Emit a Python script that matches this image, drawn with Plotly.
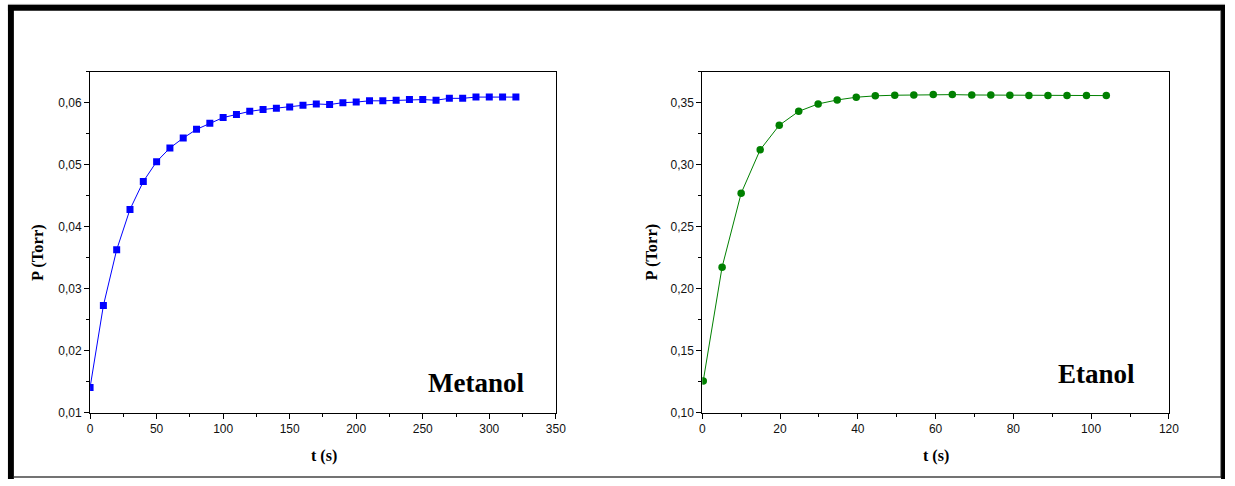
import plotly.graph_objects as go

W, H = 1235, 486

# ---- data ----
t_metanol = [0, 10, 20, 30, 40, 50, 60, 70, 80, 90, 100, 110, 120, 130, 140, 150,
             160, 170, 180, 190, 200, 210, 220, 230, 240, 250, 260, 270, 280, 290,
             300, 310, 320]
p_metanol = [0.0141, 0.0273, 0.0363, 0.0428, 0.0473, 0.0505, 0.0527, 0.0543, 0.0557,
             0.0567, 0.0576, 0.0581, 0.0586, 0.0589, 0.0591, 0.0593, 0.0596, 0.0598,
             0.0597, 0.0600, 0.0601, 0.0603, 0.0603, 0.0604, 0.0605, 0.0605, 0.0604,
             0.0607, 0.0607, 0.0609, 0.0609, 0.0609, 0.0609]

t_etanol = [0.25, 5.1, 10.0, 14.9, 19.8, 24.8, 29.8, 34.7, 39.6, 44.5, 49.5, 54.4,
            59.4, 64.3, 69.3, 74.2, 79.1, 84.0, 88.9, 93.8, 98.8, 103.9]
p_etanol = [0.1258, 0.2175, 0.2770, 0.3121, 0.3318, 0.3430, 0.3490, 0.3522, 0.3544,
            0.3555, 0.3560, 0.3562, 0.3565, 0.3565, 0.3562, 0.3562, 0.3560, 0.3557,
            0.3557, 0.3557, 0.3557, 0.3557]

x_title = "t (s)"
y_title = "P (Torr)"
label_metanol = "Metanol"
label_etanol = "Etanol"


def X(px):
    return px / W


def Y(py):
    return 1 - py / H


fig = go.Figure()
fig.add_trace(go.Scatter(
    x=t_metanol, y=p_metanol, mode="lines+markers",
    line=dict(color="#0000FF", width=1),
    marker=dict(symbol="square", size=7, color="#0000FF"),
    xaxis="x", yaxis="y", showlegend=False))
fig.add_trace(go.Scatter(
    x=t_etanol, y=p_etanol, mode="lines+markers",
    line=dict(color="#008000", width=1),
    marker=dict(symbol="circle", size=7.5, color="#008000"),
    xaxis="x2", yaxis="y2", showlegend=False))

tickfont = dict(family="Liberation Sans, Arial, sans-serif", size=12, color="#111")
common = dict(showline=True, mirror=True, linecolor="#000", linewidth=1,
              ticks="outside", ticklen=5, tickwidth=1, tickcolor="#000",
              showgrid=False, zeroline=False, tickfont=tickfont)

y_top, y_bot = 72.7, 419

fig.update_layout(
    width=W, height=H,
    margin=dict(l=0, r=0, t=0, b=0),
    paper_bgcolor="white", plot_bgcolor="white",
    separators=",.",
    xaxis=dict(domain=[X(88), X(558.7)], range=[0, 350], dtick=50, tick0=0,
               anchor="y", minor=dict(dtick=25, ticklen=3, ticks="outside", tickcolor="#000"),
               **common),
    yaxis=dict(domain=[Y(y_bot), Y(y_top)], range=[0.01, 0.065], dtick=0.01, tick0=0.01,
               tickformat=".2f", anchor="x",
               minor=dict(dtick=0.005, ticklen=3, ticks="outside", tickcolor="#000"),
               **common),
    xaxis2=dict(domain=[X(706.7), X(1178.3)], range=[0, 120], dtick=20, tick0=0,
                anchor="y2", minor=dict(dtick=10, ticklen=3, ticks="outside", tickcolor="#000"),
                **common),
    yaxis2=dict(domain=[Y(y_bot), Y(y_top)], range=[0.10, 0.375], dtick=0.05, tick0=0.10,
                tickformat=".2f", anchor="x2",
                minor=dict(dtick=0.025, ticklen=3, ticks="outside", tickcolor="#000"),
                **common),
)

serif = "Liberation Serif, Times New Roman, serif"
ann = []
for cx in (324, 942.5):
    ann.append(dict(x=X(cx), y=Y(463), xref="paper", yref="paper",
                    text="<b>" + x_title + "</b>", showarrow=False,
                    font=dict(family=serif, size=16, color="#000"),
                    xanchor="center", yanchor="middle"))
for cx in (35, 655):
    ann.append(dict(x=X(cx), y=Y(256), xref="paper", yref="paper",
                    text="<b>" + y_title + "</b>", showarrow=False, textangle=-90,
                    font=dict(family=serif, size=16.5, color="#000"),
                    xanchor="center", yanchor="middle"))
ann.append(dict(x=X(477.7), y=Y(388.8), xref="paper", yref="paper",
                text="<b>" + label_metanol + "</b>", showarrow=False,
                font=dict(family=serif, size=27, color="#000"),
                xanchor="center", yanchor="middle"))
ann.append(dict(x=X(1104.7), y=Y(379.3), xref="paper", yref="paper",
                text="<b>" + label_etanol + "</b>", showarrow=False,
                font=dict(family=serif, size=27, color="#000"),
                xanchor="center", yanchor="middle"))
fig.update_layout(annotations=ann)

# outer frame
shapes = [
    dict(type="line", x0=X(5), x1=X(1235), y0=Y(4.5), y1=Y(4.5),
         line=dict(color="#999", width=1)),
    dict(type="rect", x0=X(5), x1=X(11), y0=Y(5), y1=Y(486),
         fillcolor="#000", line=dict(width=0)),
    dict(type="rect", x0=X(5), x1=X(1235), y0=Y(5), y1=Y(11),
         fillcolor="#000", line=dict(width=0)),
    dict(type="rect", x0=X(1231), x1=X(1235), y0=Y(5), y1=Y(486),
         fillcolor="#000", line=dict(width=0)),
    dict(type="line", x0=X(1230.5), x1=X(1230.5), y0=Y(11), y1=Y(484.5),
         line=dict(color="#888", width=1)),
    dict(type="line", x0=X(11), x1=X(1231), y0=Y(484), y1=Y(484),
         line=dict(color="#444", width=1.5)),
]
for s in shapes:
    s.update(xref="paper", yref="paper", layer="above")
fig.update_layout(shapes=shapes)

fig.write_html("out.html")
